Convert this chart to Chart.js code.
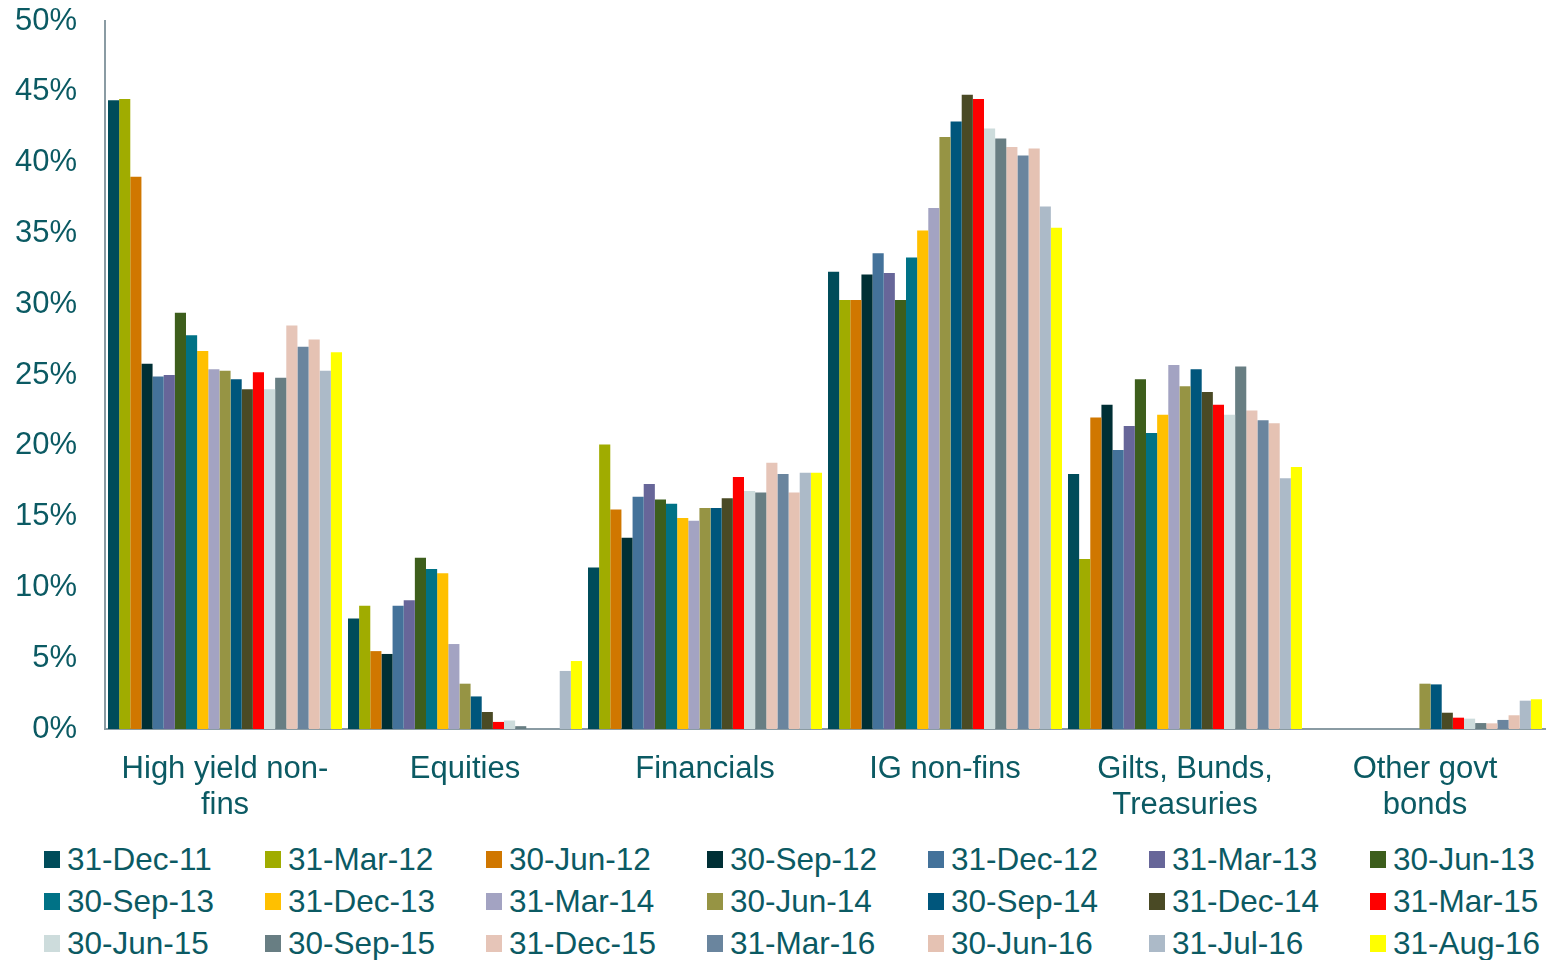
<!DOCTYPE html>
<html>
<head>
<meta charset="utf-8">
<script src="https://cdn.jsdelivr.net/npm/chart.js@4.4.1/dist/chart.umd.min.js"></script>
<style>
  html, body { margin: 0; padding: 0; background: #fff; }
  #wrap { position: relative; width: 1548px; height: 960px; overflow: hidden; }
  #chart { position: absolute; left: 0; top: 0; }
  #legend {
    position: absolute; left: 44px; top: 838px;
    display: grid; grid-template-columns: repeat(7, 221px); grid-auto-rows: 42px;
    font: 31.5px "Liberation Sans", Arial, sans-serif; color: #0b5a63;
  }
  .item { display: flex; align-items: center; white-space: nowrap; }
  .box { width: 16px; height: 17px; margin-right: 7px; flex: none; }
</style>
</head>
<body>
<div id="wrap">
  <canvas id="chart" width="1548" height="830"></canvas>
  <div id="legend"></div>
</div>
<script>
const categories = [
  ["High yield non-", "fins"],
  "Equities",
  "Financials",
  "IG non-fins",
  ["Gilts, Bunds,", "Treasuries"],
  ["Other govt", "bonds"]
];

const dates = [
  "31-Dec-11", "31-Mar-12", "30-Jun-12", "30-Sep-12", "31-Dec-12", "31-Mar-13", "30-Jun-13",
  "30-Sep-13", "31-Dec-13", "31-Mar-14", "30-Jun-14", "30-Sep-14", "31-Dec-14", "31-Mar-15",
  "30-Jun-15", "30-Sep-15", "31-Dec-15", "31-Mar-16", "30-Jun-16", "31-Jul-16", "31-Aug-16"
];

const colors = [
  "#004c5a", "#a0ac00", "#d07700", "#002f35", "#44729a", "#676699", "#3d5e1c",
  "#007286", "#ffc000", "#a3a3c2", "#969444", "#00567c", "#4a4a25", "#ff0000",
  "#cddcdc", "#687e83", "#e6c5b8", "#6a859e", "#e5c2b3", "#acbac8", "#ffff00"
];

// one value per date, in the order of `dates`
const highYield  = [44.4, 44.5, 39.0, 25.8, 24.9, 25.0, 29.4, 27.8, 26.7, 25.4, 25.3, 24.7, 24.0, 25.2, 24.0, 24.8, 28.5, 27.0, 27.5, 25.3, 26.6];
const equities   = [7.8, 8.7, 5.5, 5.3, 8.7, 9.1, 12.1, 11.3, 11.0, 6.0, 3.2, 2.3, 1.2, 0.5, 0.6, 0.2, 0, 0, 0, 4.1, 4.8];
const financials = [11.4, 20.1, 15.5, 13.5, 16.4, 17.3, 16.2, 15.9, 14.9, 14.7, 15.6, 15.6, 16.3, 17.8, 16.8, 16.7, 18.8, 18.0, 16.7, 18.1, 18.1];
const igNonFins  = [32.3, 30.3, 30.3, 32.1, 33.6, 32.2, 30.3, 33.3, 35.2, 36.8, 41.8, 42.9, 44.8, 44.5, 42.4, 41.7, 41.1, 40.5, 41.0, 36.9, 35.4];
const gilts      = [18.0, 12.0, 22.0, 22.9, 19.7, 21.4, 24.7, 20.9, 22.2, 25.7, 24.2, 25.4, 23.8, 22.9, 22.2, 25.6, 22.5, 21.8, 21.6, 17.7, 18.5];
const otherGovt  = [0, 0, 0, 0, 0, 0, 0, 0, 0, 0, 3.2, 3.15, 1.15, 0.8, 0.73, 0.42, 0.4, 0.64, 0.97, 2.0, 2.1];

const yTicks = [0, 5, 10, 15, 20, 25, 30, 35, 40, 45, 50];

const textColor = "#0b5a63";
const axisColor = "#8a9ba3";
const fontFamily = '"Liberation Sans", Arial, sans-serif';

const groups = [highYield, equities, financials, igNonFins, gilts, otherGovt];

const datasets = dates.map((d, i) => ({
    label: d,
    data: groups.map(g => g[i]),
    backgroundColor: colors[i],
    borderWidth: 0,
    categoryPercentage: 0.975,
    barPercentage: 1.0
}));

new Chart(document.getElementById("chart"), {
    type: "bar",
    data: {
        labels: categories,
        datasets: datasets
    },
    options: {
        responsive: false,
        animation: false,
        devicePixelRatio: 1,
        layout: {
            padding: { top: 21, right: 3, left: 0, bottom: 0 }
        },
        plugins: {
            legend: { display: false },
            tooltip: { enabled: false }
        },
        scales: {
            x: {
                grid: { display: false, drawTicks: false },
                border: { color: axisColor, width: 2 },
                ticks: {
                    color: textColor,
                    font: { family: fontFamily, size: 31, lineHeight: 1.18 },
                    padding: 22,
                    maxRotation: 0,
                    autoSkip: false
                },
                afterFit(scale) { scale.height = 101; }
            },
            y: {
                min: 0,
                max: 50,
                grid: { display: false, drawTicks: false },
                border: { color: axisColor, width: 2 },
                afterBuildTicks(scale) {
                    scale.ticks = yTicks.map(v => ({ value: v }));
                },
                ticks: {
                    color: textColor,
                    font: { family: fontFamily, size: 31 },
                    padding: 28,
                    callback: v => v + "%"
                },
                afterFit(scale) {
                    scale.width = 105;
                    scale.paddingTop = 0;
                    scale.paddingBottom = 0;
                }
            }
        }
    }
});

const legend = document.getElementById("legend");
dates.forEach((d, i) => {
    const item = document.createElement("div");
    item.className = "item";
    const box = document.createElement("span");
    box.className = "box";
    box.style.background = colors[i];
    const label = document.createElement("span");
    label.textContent = d;
    item.appendChild(box);
    item.appendChild(label);
    legend.appendChild(item);
});
</script>
</body>
</html>
